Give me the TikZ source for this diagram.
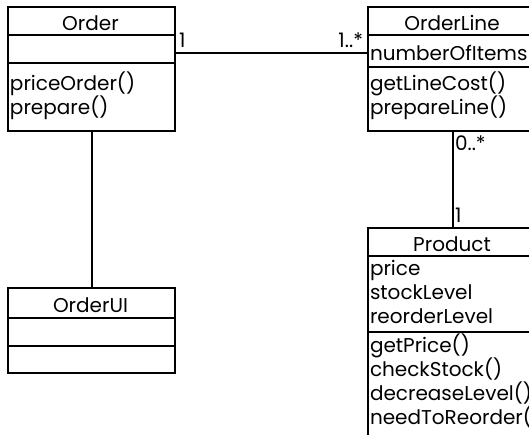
\documentclass[tikz,border=0pt]{standalone}
\usepackage{fontspec}
\setmainfont{Poppins}
\usetikzlibrary{math}
\tikzset{
  classbox/.style={draw,anchor=north west,inner sep=0pt},
  member/.style={anchor=base west,inner sep=0pt},
  classname/.style={anchor=base,inner sep=0pt},
  mult/.style={inner sep=0pt}
}

\begin{document}
\begin{tikzpicture}[x=0.5pt,y=-0.5pt,line width=1pt,font=\fontsize{10}{12}\selectfont]
\tikzmath{
\xl=7;
\xr=174;
\xL=367;
\xR=537;
\ls=24;
}
\useasboundingbox (0,0) rectangle (529,434);
\clip (0,0) rectangle (529,434);

% Order
\node[classbox,minimum width={(\xr-\xl)/2},minimum height=62] (order) at (\xl,6) {};
\node[classname] (ordername) at ({(\xl+\xr)/2},30.5) {Order};
\draw (\xl,35) -- (\xr,35);
\draw (\xl,63) -- (\xr,63);
\node[member] (priceorder) at (\xl+2,90) {priceOrder()};
\node[member] (prepare) at (\xl+2,90+\ls) {prepare()};

% OrderLine
\node[classbox,minimum width={(\xR-\xL)/2},minimum height=62] (orderline) at (\xL,6) {};
\node[classname] (orderlinename) at ({(\xL+\xR)/2},30.5) {OrderLine};
\draw (\xL,35) -- (\xR,35);
\draw (\xL,67) -- (\xR,67);
\node[member] (items) at (\xL+2,60) {numberOfItems};
\node[member] (linecost) at (\xL+2,90) {getLineCost()};
\node[member] (prepareline) at (\xL+2,90+\ls) {prepareLine()};

% OrderUI
\node[classbox,minimum width={(\xr-\xl)/2},minimum height=42.5] (orderui) at (\xl,287) {};
\node[classname] (orderuiname) at ({(\xl+\xr)/2},312) {OrderUI};
\draw (\xl,318) -- (\xr,318);
\draw (\xl,346) -- (\xr,346);

% Product
\node[classbox,minimum width={(\xR-\xL)/2},minimum height=109] (product) at (\xL,227) {};
\node[classname] (productname) at ({(\xL+\xR)/2},251) {Product};
\draw (\xL,256) -- (\xR,256);
\draw (\xL,332) -- (\xR,332);
\node[member] (price) at (\xL+2,275) {price};
\node[member] (stock) at (\xL+2,275+\ls) {stockLevel};
\node[member] (reorder) at (\xL+2,275+2*\ls) {reorderLevel};
\node[member] (getprice) at (\xL+2,352) {getPrice()};
\node[member] (checkstock) at (\xL+2,352+\ls) {checkStock()};
\node[member] (decrease) at (\xL+2,352+2*\ls) {decreaseLevel()};
\node[member] (needreorder) at (\xL+2,352+3*\ls) {needToReorder()};

% associations
\coordinate (assoc) at (0,53);
\draw (order.east |- assoc) -- (orderline.west |- assoc);
\draw (order.south) -- (orderui.north);
\draw (orderline.south) -- (product.north);
\node[mult,anchor=base west] (orderone) at (178,47) {1};
\node[mult,anchor=base east] (linemany) at (364,47) {1..*};
\node[mult,anchor=base west] (productlines) at (454,150) {0..*};
\node[mult,anchor=base west] (productone) at (454,222) {1};
\end{tikzpicture}
\end{document}
